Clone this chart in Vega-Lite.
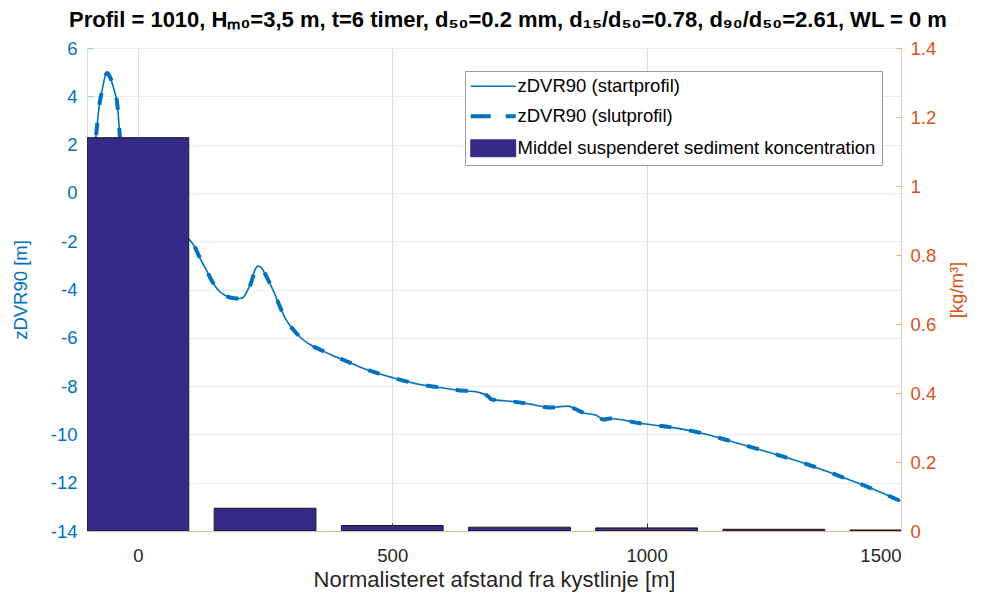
{
  "$schema": "https://vega.github.io/schema/vega-lite/v6.json",
  "width": 814,
  "height": 483,
  "autosize": {"type": "none"},
  "padding": {"left": 87, "top": 48, "right": 81, "bottom": 68},
  "title": {
    "text": "Profil = 1010, Hₘ₀=3,5 m, t=6 timer, d₅₀=0.2 mm, d₁₅/d₅₀=0.78, d₉₀/d₅₀=2.61, WL = 0 m",
    "font": "Liberation Sans",
    "fontSize": 22,
    "fontWeight": "bold",
    "color": "#000000",
    "anchor": "middle",
    "baseline": "alphabetic",
    "offset": 12,
    "dx": 14,
    "dy": 22
  },
  "config": {
    "font": "Liberation Sans",
    "view": {"stroke": null},
    "axis": {"titleFontWeight": "normal", "labelFont": "Liberation Sans", "titleFont": "Liberation Sans"}
  },
  "datasets": {
    "profil": [
      {"x": -95, "start": 1.2, "slut": 1.2},
      {"x": -83, "start": 2.25, "slut": 2.25},
      {"x": -76, "start": 3.59, "slut": 3.6},
      {"x": -70, "start": 4.28, "slut": 4.28},
      {"x": -64, "start": 4.85, "slut": 4.84},
      {"x": -60, "start": 4.97, "slut": 4.96},
      {"x": -56, "start": 4.85, "slut": 4.85},
      {"x": -47, "start": 4.28, "slut": 4.28},
      {"x": -40, "start": 3.59, "slut": 3.6},
      {"x": -35, "start": 2.25, "slut": 2.25},
      {"x": -25, "start": 0.9, "slut": 0.9},
      {"x": 0, "start": -0.3, "slut": -0.3},
      {"x": 50, "start": -1.1, "slut": -1.1},
      {"x": 98, "start": -1.86, "slut": -1.86},
      {"x": 111, "start": -2.2, "slut": -2.2},
      {"x": 122, "start": -2.7, "slut": -2.7},
      {"x": 134, "start": -3.17, "slut": -3.17},
      {"x": 147, "start": -3.7, "slut": -3.7},
      {"x": 160, "start": -4.07, "slut": -4.07},
      {"x": 172, "start": -4.25, "slut": -4.26},
      {"x": 183, "start": -4.34, "slut": -4.34},
      {"x": 195, "start": -4.38, "slut": -4.37},
      {"x": 206, "start": -4.34, "slut": -4.34},
      {"x": 214, "start": -4.1, "slut": -4.12},
      {"x": 222, "start": -3.72, "slut": -3.76},
      {"x": 229, "start": -3.25, "slut": -3.3},
      {"x": 235.5, "start": -3.03, "slut": -3.08},
      {"x": 240, "start": -3.05, "slut": -3.1},
      {"x": 245, "start": -3.17, "slut": -3.18},
      {"x": 256, "start": -3.6, "slut": -3.6},
      {"x": 268, "start": -4.13, "slut": -4.13},
      {"x": 280, "start": -4.75, "slut": -4.75},
      {"x": 291, "start": -5.24, "slut": -5.24},
      {"x": 307, "start": -5.7, "slut": -5.7},
      {"x": 324, "start": -6.07, "slut": -6.07},
      {"x": 340, "start": -6.3, "slut": -6.3},
      {"x": 357, "start": -6.48, "slut": -6.48},
      {"x": 383, "start": -6.73, "slut": -6.73},
      {"x": 409, "start": -6.96, "slut": -6.96},
      {"x": 449, "start": -7.31, "slut": -7.31},
      {"x": 501, "start": -7.65, "slut": -7.65},
      {"x": 554, "start": -7.93, "slut": -7.93},
      {"x": 593, "start": -8.06, "slut": -8.06},
      {"x": 626, "start": -8.16, "slut": -8.16},
      {"x": 672, "start": -8.27, "slut": -8.27},
      {"x": 690, "start": -8.45, "slut": -8.45},
      {"x": 695, "start": -8.55, "slut": -8.55},
      {"x": 737, "start": -8.64, "slut": -8.64},
      {"x": 780, "start": -8.78, "slut": -8.78},
      {"x": 810, "start": -8.89, "slut": -8.89},
      {"x": 830, "start": -8.85, "slut": -8.85},
      {"x": 846, "start": -8.83, "slut": -8.83},
      {"x": 860, "start": -8.95, "slut": -8.95},
      {"x": 875, "start": -9.1, "slut": -9.1},
      {"x": 901, "start": -9.21, "slut": -9.21},
      {"x": 915, "start": -9.38, "slut": -9.38},
      {"x": 928, "start": -9.34, "slut": -9.34},
      {"x": 987, "start": -9.54, "slut": -9.54},
      {"x": 1052, "start": -9.72, "slut": -9.72},
      {"x": 1105, "start": -9.93, "slut": -9.93},
      {"x": 1157, "start": -10.23, "slut": -10.23},
      {"x": 1216, "start": -10.59, "slut": -10.59},
      {"x": 1275, "start": -10.96, "slut": -10.96},
      {"x": 1335, "start": -11.38, "slut": -11.38},
      {"x": 1387, "start": -11.79, "slut": -11.79},
      {"x": 1446, "start": -12.27, "slut": -12.27},
      {"x": 1499, "start": -12.76, "slut": -12.76}
    ],
    "koncentration": [
      {"fra": -100, "til": 100, "c": 1.14},
      {"fra": 150, "til": 350, "c": 0.066},
      {"fra": 400, "til": 600, "c": 0.016},
      {"fra": 650, "til": 850, "c": 0.011},
      {"fra": 900, "til": 1100, "c": 0.009},
      {"fra": 1150, "til": 1350, "c": 0.005},
      {"fra": 1400, "til": 1600, "c": 0.003}
    ]
  },
  "layer": [
    {
      "data": {"name": "profil"},
      "encoding": {
        "x": {
          "field": "x",
          "type": "quantitative",
          "scale": {"domain": [-100, 1500], "nice": false, "zero": false},
          "axis": {
            "title": "Normalisteret afstand fra kystlinje [m]",
            "values": [0, 500, 1000, 1500],
            "labelExpr": "'' + datum.value",
            "labelFontSize": 18.5,
            "labelColor": "#262626",
            "titleFontSize": 22,
            "titleColor": "#262626",
            "titlePadding": 5,
            "domainColor": "#f2b39b",
            "tickColor": "#333333",
            "tickSize": -8,
            "labelPadding": 23,
            "grid": true,
            "gridColor": "#dadde1"
          }
        }
      },
      "layer": [
        {
          "mark": {"type": "line", "interpolate": "monotone", "strokeWidth": 1.6, "clip": true},
          "encoding": {
            "y": {
              "field": "start",
              "type": "quantitative",
              "scale": {"domain": [-14, 6], "nice": false, "zero": false},
              "axis": {
                "orient": "left",
                "title": "zDVR90 [m]",
                "values": [-14, -12, -10, -8, -6, -4, -2, 0, 2, 4, 6],
                "labelExpr": "'' + datum.value",
                "labelFontSize": 18.5,
                "labelColor": "#0072BD",
                "titleFontSize": 18.5,
                "titleColor": "#0072BD",
                "titlePadding": 20,
                "domainColor": "#c8dcef",
                "tickColor": "#9cc3e4",
                "tickSize": -6,
                "labelPadding": 16,
                "grid": true,
                "gridColor": "#e3edf6"
              }
            },
            "color": {
              "datum": "zDVR90 (startprofil)",
              "scale": {
                "domain": ["zDVR90 (startprofil)", "zDVR90 (slutprofil)", "Middel suspenderet sediment koncentration"],
                "range": ["#0072BD", "#0072BD", "#352A87"]
              },
              "legend": {
                "title": null,
                "orient": "none",
                "legendX": 378,
                "legendY": 23,
                "padding": 6,
                "rowPadding": 11,
                "strokeColor": "#9a9a9a",
                "fillColor": "#ffffff",
                "labelFont": "Liberation Sans",
                "labelFontSize": 18.5,
                "labelColor": "#000000",
                "labelLimit": 500,
                "symbolSize": 289,
                "symbolStrokeWidth": 1.5,
                "symbolOffset": 13,
                "labelOffset": 15,
                "encode": {
                  "symbols": {
                    "update": {
                      "shape": {"signal": "datum.value == 'Middel suspenderet sediment koncentration' ? 'M-2.65,-1H2.65V1H-2.65Z' : 'M-2.65,0H2.65'"},
                      "fill": {"signal": "datum.value == 'Middel suspenderet sediment koncentration' ? '#352A87' : 'transparent'"},
                      "stroke": {"signal": "datum.value == 'Middel suspenderet sediment koncentration' ? '#1a1a1a' : '#0072BD'"},
                      "strokeWidth": {"signal": "datum.value == 'zDVR90 (slutprofil)' ? 4 : (datum.value == 'zDVR90 (startprofil)' ? 1.6 : 1)"},
                      "strokeDash": {"signal": "datum.value == 'zDVR90 (slutprofil)' ? [20, 15] : [1, 0]"},
                      "opacity": {"value": 1}
                    }
                  }
                }
              }
            }
          }
        },
        {
          "mark": {"type": "line", "interpolate": "monotone", "strokeWidth": 4, "strokeDash": [12, 18], "clip": true},
          "encoding": {
            "y": {"field": "slut", "type": "quantitative"},
            "color": {"datum": "zDVR90 (slutprofil)"}
          }
        }
      ]
    },
    {
      "data": {"name": "koncentration"},
      "mark": {"type": "bar", "stroke": "#1a1a1a", "strokeWidth": 1, "clip": true},
      "encoding": {
        "x": {"field": "fra", "type": "quantitative"},
        "x2": {"field": "til"},
        "y": {
          "field": "c",
          "type": "quantitative",
          "scale": {"domain": [0, 1.4], "nice": false},
          "axis": {
            "orient": "right",
            "title": "[kg/m³]",
            "values": [0, 0.2, 0.4, 0.6, 0.8, 1, 1.2, 1.4],
            "labelExpr": "'' + datum.value",
            "labelFontSize": 18.5,
            "labelColor": "#D95319",
            "titleFontSize": 18.5,
            "titleColor": "#D95319",
            "titleAngle": 270,
            "titleBaseline": "top",
            "titlePadding": 12,
            "domainColor": "#f5c6b3",
            "tickColor": "#f0a98c",
            "tickSize": -5,
            "labelPadding": 14,
            "grid": false
          }
        },
        "y2": {"datum": 0},
        "color": {"datum": "Middel suspenderet sediment koncentration"}
      }
    }
  ],
  "resolve": {"scale": {"y": "independent"}, "axis": {"y": "independent"}}
}
